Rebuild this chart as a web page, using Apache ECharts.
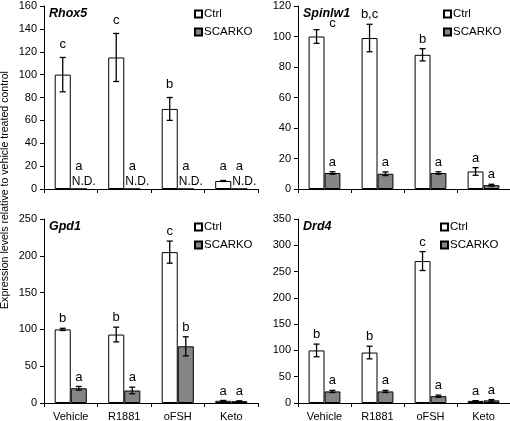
<!DOCTYPE html>
<html><head><meta charset="utf-8">
<script src="https://cdn.jsdelivr.net/npm/echarts@6/dist/echarts.min.js"></script>
<style>html,body{margin:0;padding:0;background:#fff}#c{width:510px;height:421px}</style>
</head><body><div id="c"></div>
<script>
const categories = ['Vehicle', 'R1881', 'oFSH', 'Keto'];
const geneNames = ['Rhox5', 'Spinlw1', 'Gpd1', 'Drd4'];
const yMaxes = [160, 120, 250, 350];
const yIntervals = [20, 20, 50, 50];

const rhox5Ctrl = [100, 115, 70, 7];
const rhox5CtrlErr = [15, 21, 10, 0.4];
const rhox5CtrlLetters = ['c', 'c', 'b', 'a'];
const rhox5Sko = [0, 0, 0, 0];
const rhox5SkoErr = [0, 0, 0, 0];
const rhox5SkoLetters = ['a', 'a', 'a', 'a'];
const rhox5SkoND = [true, true, true, true];

const spinlw1Ctrl = [100, 99, 88, 11.5];
const spinlw1CtrlErr = [4.5, 9, 4, 2.5];
const spinlw1CtrlLetters = ['c', 'b,c', 'b', 'a'];
const spinlw1Sko = [10.5, 10, 10.5, 2.5];
const spinlw1SkoErr = [0.8, 1.2, 0.8, 0.6];
const spinlw1SkoLetters = ['a', 'a', 'a', 'a'];

const gpd1Ctrl = [100, 93, 205, 3];
const gpd1CtrlErr = [1.5, 10, 15, 0.5];
const gpd1CtrlLetters = ['b', 'b', 'c', 'a'];
const gpd1Sko = [20, 17, 77, 2.5];
const gpd1SkoErr = [2.5, 4.5, 13, 0.5];
const gpd1SkoLetters = ['a', 'a', 'b', 'a'];

const drd4Ctrl = [100, 96, 270, 4];
const drd4CtrlErr = [12, 12, 18, 0.5];
const drd4CtrlLetters = ['b', 'b', 'c', 'a'];
const drd4Sko = [22, 22, 13, 5];
const drd4SkoErr = [2, 2, 2, 1.5];
const drd4SkoLetters = ['a', 'a', 'a', 'a'];

const panels = [
  {ctrl: rhox5Ctrl, ctrlErr: rhox5CtrlErr, ctrlL: rhox5CtrlLetters, sko: rhox5Sko, skoErr: rhox5SkoErr, skoL: rhox5SkoLetters, nd: rhox5SkoND},
  {ctrl: spinlw1Ctrl, ctrlErr: spinlw1CtrlErr, ctrlL: spinlw1CtrlLetters, sko: spinlw1Sko, skoErr: spinlw1SkoErr, skoL: spinlw1SkoLetters},
  {ctrl: gpd1Ctrl, ctrlErr: gpd1CtrlErr, ctrlL: gpd1CtrlLetters, sko: gpd1Sko, skoErr: gpd1SkoErr, skoL: gpd1SkoLetters},
  {ctrl: drd4Ctrl, ctrlErr: drd4CtrlErr, ctrlL: drd4CtrlLetters, sko: drd4Sko, skoErr: drd4SkoErr, skoL: drd4SkoLetters}
];

// layout (styles/positions kept separate from data)
const gridPos = [
  {left: 44, top: 6, width: 214, height: 183},
  {left: 298, top: 6, width: 212, height: 183},
  {left: 44, top: 219, width: 214, height: 184},
  {left: 298, top: 219, width: 212, height: 184}
];
const legendPos = [
  {left: 194, top: 8}, {left: 443, top: 8}, {left: 194, top: 221}, {left: 440, top: 221}
];
const panelLetterDy = [-4, 0, 0, 0];
// special letter offsets [panel][series][cat] = [dx, dy]
const letterShift = {'1-0-0': [16, 3]};

const FONT = 'Liberation Sans, Arial, sans-serif';
const GRAY = '#858585';

function errSeries(p, s, vals, errs, letters, nd) {
  return {
    type: 'custom', xAxisIndex: p, yAxisIndex: p, z: 5, silent: true,
    data: vals.map((v, i) => [i, v]),
    encode: {x: 0, y: 1},
    renderItem: function (params, api) {
      const i = params.dataIndex;
      const v = vals[i], e = errs[i];
      const band = api.size([1, 0])[0];
      const sign = s === 0 ? -1 : 1;
      const base = api.coord([i, v]);
      const x = base[0] + sign * band * 0.15;
      const top = api.coord([i, v + e])[1];
      const bot = api.coord([i, Math.max(v - e, 0)])[1];
      const y0 = api.coord([i, 0])[1];
      const children = [];
      const ls = {stroke: '#000', lineWidth: 1.3};
      if (e > 0) {
        children.push({type: 'line', shape: {x1: x, y1: top, x2: x, y2: bot}, style: ls});
        children.push({type: 'line', shape: {x1: x - 3, y1: top, x2: x + 3, y2: top}, style: ls});
        children.push({type: 'line', shape: {x1: x - 3, y1: bot, x2: x + 3, y2: bot}, style: ls});
      }
      let ly = top - 3 + panelLetterDy[p];
      if (nd && nd[i]) {
        children.push({type: 'text', style: {x: x - band * 0.15 + 1, y: y0 - 1, text: 'N.D.', font: '12px ' + FONT, fill: '#000', align: 'left', verticalAlign: 'bottom'}});
        ly = y0 - 16;
      }
      if (p === 0 && s === 0 && v < 20) ly = y0 - 16;
      const sh = letterShift[p + '-' + s + '-' + i] || [0, 0];
      children.push({type: 'text', style: {x: x + sh[0], y: ly + sh[1], text: letters[i], font: '13px ' + FONT, fill: '#000', align: 'center', verticalAlign: 'bottom'}});
      return {type: 'group', children: children};
    }
  };
}

const option = {
  animation: false,
  backgroundColor: '#fff',
  textStyle: {fontFamily: FONT},
  grid: gridPos.map(g => Object.assign({containLabel: false, outerBoundsMode: 'none'}, g)),
  legend: legendPos.map((lp, k) => ({
    left: lp.left, top: lp.top, orient: 'vertical', itemGap: 6, itemWidth: 7, itemHeight: 7,
    padding: 0, icon: 'rect', data: ['Ctrl', 'SCARKO'], selectedMode: false,
    textStyle: {fontSize: 11.5, color: '#000', fontFamily: FONT, padding: [0, 0, 0, -3]}
  })),
  xAxis: gridPos.map((g, k) => ({
    type: 'category', gridIndex: k, data: categories,
    axisLine: {lineStyle: {color: '#000', width: 1}},
    axisTick: {show: true, length: 4, lineStyle: {color: '#000'}},
    axisLabel: {show: k >= 2, color: '#000', fontSize: 11, margin: 8, fontFamily: FONT}
  })),
  yAxis: gridPos.map((g, k) => ({
    type: 'value', gridIndex: k, min: 0, max: yMaxes[k], interval: yIntervals[k],
    axisLine: {show: true, lineStyle: {color: '#000', width: 1}},
    axisTick: {show: true, length: 4, lineStyle: {color: '#000'}},
    splitLine: {show: false},
    axisLabel: {color: '#000', fontSize: 11, margin: 7, fontFamily: FONT}
  })),
  graphic: [
    {type: 'text', x: 0, y: 190, rotation: Math.PI / 2,
      style: {text: 'Expression levels relative to vehicle treated control', font: '10.6px ' + FONT, fill: '#000', align: 'center', verticalAlign: 'top'}}
  ].concat(geneNames.map((n, k) => ({
    type: 'text', x: gridPos[k].left + 5, y: gridPos[k].top + 1,
    style: {text: n, font: 'italic bold 12.5px ' + FONT, fill: '#000'}
  }))),
  series: []
};

panels.forEach((pd, p) => {
  option.series.push({
    name: 'Ctrl', type: 'bar', xAxisIndex: p, yAxisIndex: p, data: pd.ctrl,
    barCategoryGap: '40%', barGap: '0%',
    itemStyle: {color: '#fff', borderColor: '#000', borderWidth: 1}
  });
  option.series.push({
    name: 'SCARKO', type: 'bar', xAxisIndex: p, yAxisIndex: p, data: pd.sko,
    barCategoryGap: '40%', barGap: '0%',
    itemStyle: {color: GRAY, borderColor: '#000', borderWidth: 1}
  });
  option.series.push(errSeries(p, 0, pd.ctrl, pd.ctrlErr, pd.ctrlL, null));
  option.series.push(errSeries(p, 1, pd.sko, pd.skoErr, pd.skoL, pd.nd));
});

const chart = echarts.init(document.getElementById('c'), null, {renderer: 'canvas'});
chart.setOption(option);
</script></body></html>
